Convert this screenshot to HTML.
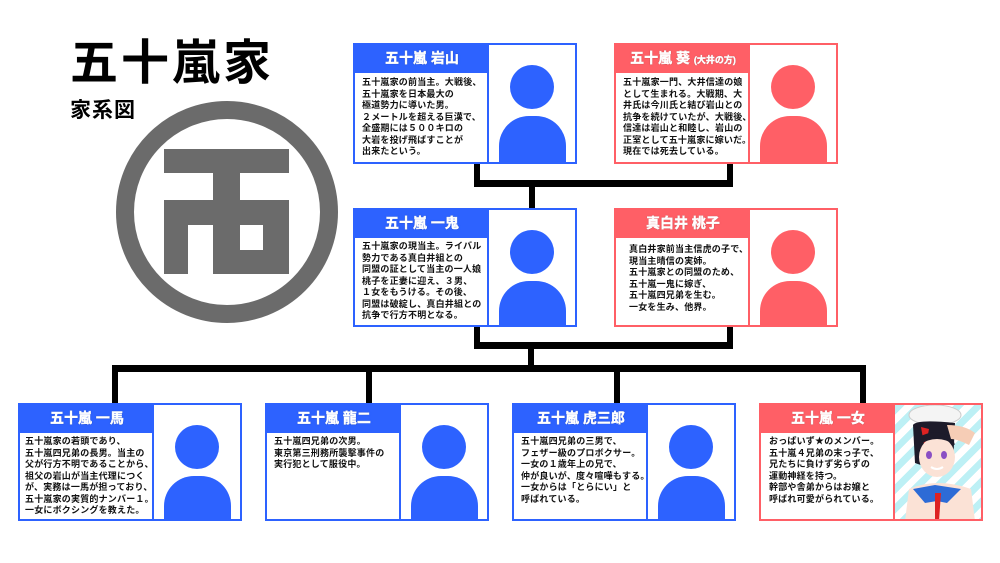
<!DOCTYPE html>
<html><head><meta charset="utf-8"><style>
*{margin:0;padding:0;box-sizing:border-box}
body{width:1000px;height:563px;background:#fff;position:relative;overflow:hidden;font-family:"Liberation Sans","Noto Sans CJK JP",sans-serif}
.a{position:absolute}
.ln{position:absolute;background:#000}
.card{position:absolute;width:224px;border:2px solid var(--c);background:#fff}
.hd{position:absolute;left:0;top:0;width:134px;height:26px;background:var(--c);color:#fff;font-weight:bold;font-size:14px;text-align:center;line-height:26px;-webkit-text-stroke:0.4px #fff;text-shadow:0 0 2px var(--c),0 0 1px #000}
.hd small{font-size:9px}
.tx{position:absolute;left:0;top:26px;width:134px;bottom:0;border-top:2px solid var(--c);border-right:2px solid var(--c);padding:3px 0 0 7px;font-size:9px;line-height:11.5px;font-weight:bold;color:#111;white-space:nowrap;letter-spacing:0.2px}
.ph{position:absolute;left:134px;top:0;right:0;bottom:0;overflow:hidden}
.head{position:absolute;left:21px;top:20px;width:44px;height:44px;border-radius:50%;background:var(--c)}
.body{position:absolute;left:10px;top:71px;width:67px;height:80px;border-radius:30px 30px 0 0;background:var(--c)}
.b{--c:#2d62ff}.r{--c:#ff5f66}
</style></head><body>
<div class="a" style="left:70px;top:34px;font-size:48px;font-weight:bold;letter-spacing:3px;line-height:60px">五十嵐家</div>
<div class="a" style="left:70px;top:98px;font-size:21px;font-weight:bold;letter-spacing:1px;line-height:26px">家系図</div>
<svg class="a" style="left:0;top:0" width="340" height="340">
<circle cx="227" cy="212" r="102" fill="none" stroke="#6b6b6b" stroke-width="18"/>
<path fill="#6b6b6b" fill-rule="evenodd" d="M164 149H289V173H240V200H289V274H164V200H213V173H164Z M188 225H213V274H188Z M240 225H263V250H240Z"/>
</svg>
<!-- connectors -->
<div class="ln" style="left:474px;top:163px;width:6px;height:24px"></div>
<div class="ln" style="left:727px;top:163px;width:6px;height:24px"></div>
<div class="ln" style="left:474px;top:180px;width:259px;height:7px"></div>
<div class="ln" style="left:529px;top:186px;width:6px;height:22px"></div>
<div class="ln" style="left:474px;top:326px;width:6px;height:23px"></div>
<div class="ln" style="left:727px;top:326px;width:6px;height:23px"></div>
<div class="ln" style="left:474px;top:342px;width:259px;height:7px"></div>
<div class="ln" style="left:528px;top:348px;width:6px;height:18px"></div>
<div class="ln" style="left:112px;top:365px;width:754px;height:7px"></div>
<div class="ln" style="left:112px;top:365px;width:6px;height:38px"></div>
<div class="ln" style="left:366px;top:365px;width:6px;height:38px"></div>
<div class="ln" style="left:614px;top:365px;width:6px;height:38px"></div>
<div class="ln" style="left:860px;top:365px;width:6px;height:38px"></div>

<div class="card b" style="left:353px;top:43px;height:121px"><div class="hd">五十嵐 岩山</div><div class="tx" style="padding-top:4px">五十嵐家の前当主。大戦後、<br>五十嵐家を日本最大の<br>極道勢力に導いた男。<br>２メートルを超える巨漢で、<br>全盛期には５００キロの<br>大岩を投げ飛ばすことが<br>出来たという。</div><div class="ph"><div class="head"></div><div class="body"></div></div></div>
<div class="card r" style="left:614px;top:43px;height:121px"><div class="hd">五十嵐 葵 <small>(大井の方)</small></div><div class="tx" style="padding-top:4px">五十嵐家一門、大井信達の娘<br>として生まれる。大戦期、大<br>井氏は今川氏と結び岩山との<br>抗争を続けていたが、大戦後、<br>信達は岩山と和睦し、岩山の<br>正室として五十嵐家に嫁いだ。<br>現在では死去している。</div><div class="ph"><div class="head"></div><div class="body"></div></div></div>
<div class="card b" style="left:353px;top:208px;height:119px"><div class="hd">五十嵐 一鬼</div><div class="tx">五十嵐家の現当主。ライバル<br>勢力である真白井組との<br>同盟の証として当主の一人娘<br>桃子を正妻に迎え、３男、<br>１女をもうける。その後、<br>同盟は破綻し、真白井組との<br>抗争で行方不明となる。</div><div class="ph"><div class="head"></div><div class="body"></div></div></div>
<div class="card r" style="left:614px;top:208px;height:119px"><div class="hd">真白井 桃子</div><div class="tx" style="padding-left:13px;padding-top:6px">真白井家前当主信虎の子で、<br>現当主晴信の実姉。<br>五十嵐家との同盟のため、<br>五十嵐一鬼に嫁ぎ、<br>五十嵐四兄弟を生む。<br>一女を生み、他界。</div><div class="ph"><div class="head"></div><div class="body"></div></div></div>

<div class="card b" style="left:18px;top:403px;height:118px"><div class="hd">五十嵐 一馬</div><div class="tx" style="padding-left:5px">五十嵐家の若頭であり、<br>五十嵐四兄弟の長男。当主の<br>父が行方不明であることから、<br>祖父の岩山が当主代理につく<br>が、実務は一馬が担っており、<br>五十嵐家の実質的ナンバー１。<br>一女にボクシングを教えた。</div><div class="ph"><div class="head"></div><div class="body"></div></div></div>
<div class="card b" style="left:265px;top:403px;height:118px"><div class="hd">五十嵐 龍二</div><div class="tx">五十嵐四兄弟の次男。<br>東京第三刑務所襲撃事件の<br>実行犯として服役中。</div><div class="ph"><div class="head"></div><div class="body"></div></div></div>
<div class="card b" style="left:512px;top:403px;height:118px"><div class="hd">五十嵐 虎三郎</div><div class="tx">五十嵐四兄弟の三男で、<br>フェザー級のプロボクサー。<br>一女の１歳年上の兄で、<br>仲が良いが、度々喧嘩もする。<br>一女からは「とらにい」と<br>呼ばれている。</div><div class="ph"><div class="head"></div><div class="body"></div></div></div>
<div class="card r" style="left:759px;top:403px;height:118px"><div class="hd">五十嵐 一女</div><div class="tx" style="padding-left:8px">おっぱいず★のメンバー。<br>五十嵐４兄弟の末っ子で、<br>兄たちに負けず劣らずの<br>運動神経を持つ。<br>幹部や舎弟からはお嬢と<br>呼ばれ可愛がられている。</div>
<div class="ph" style="background:repeating-linear-gradient(135deg,#bdf0f5 0 7px,#fff 7px 14px)">
<svg width="88" height="116" style="position:absolute;left:0;top:0">
<ellipse cx="40" cy="10" rx="26" ry="10" fill="#f4f4f4" stroke="#ccc"/>
<path d="M18 20 Q22 14 60 18 L58 60 Q40 66 20 58 Z" fill="#1d1b2a"/>
<path d="M26 22 L30 45 L34 24 Z" fill="#d22"/>
<ellipse cx="42" cy="52" rx="18" ry="20" fill="#fbe2d6"/>
<path d="M24 40 Q42 28 60 40 L58 34 Q42 22 24 32Z" fill="#1d1b2a"/>
<ellipse cx="34" cy="50" rx="3" ry="4" fill="#8a4fc4"/><ellipse cx="49" cy="50" rx="3" ry="4" fill="#8a4fc4"/>
<path d="M36 62 Q42 66 48 62" stroke="#fff" stroke-width="2" fill="none"/>
<path d="M52 20 Q70 20 80 28 L74 40 Q62 34 56 34 Z" fill="#f6cdb6"/>
<path d="M10 116 L14 84 Q42 72 76 84 L80 116Z" fill="#fbe2d6"/>
<path d="M18 84 L40 80 L66 84 L52 98 L42 96 L30 98Z" fill="#2d6bd6"/>
<path d="M40 88 L46 88 L44 116 L40 116Z" fill="#d22"/>
</svg></div></div>
</body></html>
